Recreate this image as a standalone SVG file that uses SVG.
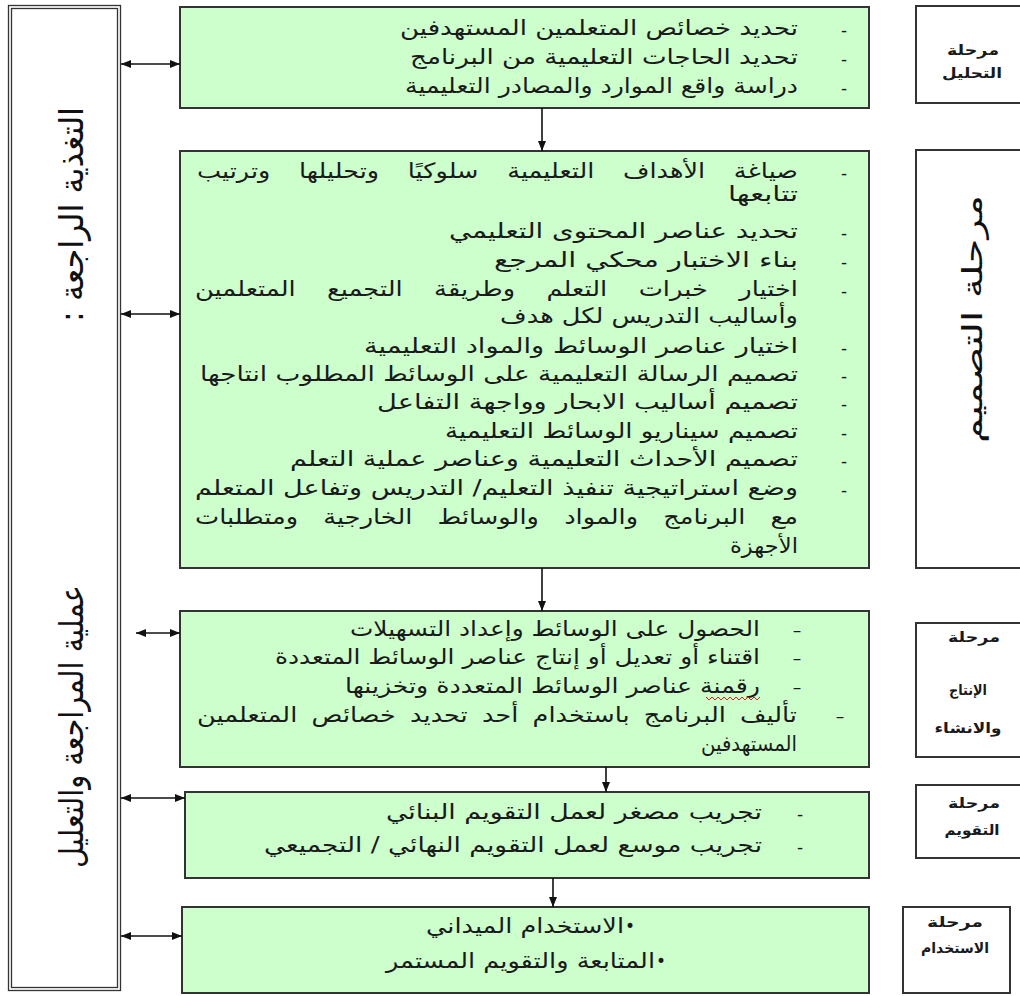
<svg xmlns="http://www.w3.org/2000/svg" width="1020" height="996" viewBox="0 0 1020 996">
<defs>
<style>
.box{fill:#ccffcc;stroke:#333;stroke-width:2}
.lbl{fill:#fff;stroke:#333;stroke-width:2}
.frame{fill:none;stroke:#333;stroke-width:1.3}
.t{font-family:"DejaVu Sans",sans-serif;font-size:21px;fill:#1a1a1a;direction:rtl;text-anchor:middle}
.d{font-family:"DejaVu Sans",sans-serif;font-size:17px;fill:#1a1a1a;text-anchor:middle}
.s{font-family:"DejaVu Sans",sans-serif;font-size:14px;font-weight:bold;fill:#1a1a1a;direction:rtl;text-anchor:middle}
.v{font-family:"DejaVu Sans",sans-serif;font-size:33px;fill:#111;direction:rtl;text-anchor:middle}
.c{fill:none;stroke:#111;stroke-width:1.6}
</style>
<marker id="ah" viewBox="0 0 10 8" refX="10" refY="4" markerWidth="10" markerHeight="8" markerUnits="userSpaceOnUse" orient="auto-start-reverse">
<path d="M0,0 L10,4 L0,8 Z" fill="#111"/>
</marker>
</defs>

<g id="feedback">
<rect class="frame" x="8.5" y="5.5" width="112" height="985"/>
<rect class="frame" x="11.5" y="8.5" width="106" height="979"/>
<text class="v" transform="translate(83,214.5) rotate(-90)" textLength="215" lengthAdjust="spacingAndGlyphs">التغذية الراجعة :</text>
<text class="v" transform="translate(83,726.5) rotate(-90)" textLength="283" lengthAdjust="spacingAndGlyphs">عملية المراجعة والتعليل</text>
</g>

<g id="analysis">
<rect class="box" x="180" y="7" width="689" height="101"/>
<text class="d" x="844" y="36">-</text>
<text class="d" x="844" y="65">-</text>
<text class="d" x="844" y="94">-</text>
<text class="t" x="599" y="35" textLength="398" lengthAdjust="spacingAndGlyphs">تحديد خصائص المتعلمين المستهدفين</text>
<text class="t" x="604" y="64" textLength="388" lengthAdjust="spacingAndGlyphs">تحديد الحاجات التعليمية من البرنامج</text>
<text class="t" x="601.5" y="93" textLength="393" lengthAdjust="spacingAndGlyphs">دراسة واقع الموارد والمصادر التعليمية</text>
</g>

<g id="design">
<rect class="box" x="180" y="151" width="689" height="417"/>
<text class="d" x="844" y="179">-</text>
<text class="d" x="844" y="239">-</text>
<text class="d" x="844" y="268">-</text>
<text class="d" x="844" y="297">-</text>
<text class="d" x="844" y="354">-</text>
<text class="d" x="844" y="382">-</text>
<text class="d" x="844" y="410">-</text>
<text class="d" x="844" y="439">-</text>
<text class="d" x="844" y="467">-</text>
<text class="d" x="844" y="496">-</text>
<text class="t" x="497.5" y="178" word-spacing="17" textLength="601" lengthAdjust="spacingAndGlyphs">صياغة الأهداف التعليمية سلوكيًا وتحليلها وترتيب</text>
<text class="t" x="763" y="201" textLength="70" lengthAdjust="spacingAndGlyphs">تتابعها</text>
<text class="t" x="623.5" y="238" textLength="349" lengthAdjust="spacingAndGlyphs">تحديد عناصر المحتوى التعليمي</text>
<text class="t" x="646" y="267" textLength="304" lengthAdjust="spacingAndGlyphs">بناء الاختبار محكي المرجع</text>
<text class="t" x="496.5" y="296" word-spacing="19" textLength="603" lengthAdjust="spacingAndGlyphs">اختيار خبرات التعلم وطريقة التجميع المتعلمين</text>
<text class="t" x="649" y="323" textLength="298" lengthAdjust="spacingAndGlyphs">وأساليب التدريس لكل هدف</text>
<text class="t" x="581" y="353" textLength="434" lengthAdjust="spacingAndGlyphs">اختيار عناصر الوسائط والمواد التعليمية</text>
<text class="t" x="499" y="381" textLength="598" lengthAdjust="spacingAndGlyphs">تصميم الرسالة التعليمية على الوسائط المطلوب انتاجها</text>
<text class="t" x="587.5" y="409" textLength="421" lengthAdjust="spacingAndGlyphs">تصميم أساليب الابحار وواجهة التفاعل</text>
<text class="t" x="621.5" y="438" textLength="353" lengthAdjust="spacingAndGlyphs">تصميم سيناريو الوسائط التعليمية</text>
<text class="t" x="544" y="466" textLength="508" lengthAdjust="spacingAndGlyphs">تصميم الأحداث التعليمية وعناصر عملية التعلم</text>
<text class="t" x="496.5" y="495" textLength="603" lengthAdjust="spacingAndGlyphs">وضع استراتيجية تنفيذ التعليم/ التدريس وتفاعل المتعلم</text>
<text class="t" x="496.5" y="524" word-spacing="14" textLength="603" lengthAdjust="spacingAndGlyphs">مع البرنامج والمواد والوسائط الخارجية ومتطلبات</text>
<text class="t" x="764" y="553" textLength="68" lengthAdjust="spacingAndGlyphs">الأجهزة</text>
</g>

<g id="production">
<rect class="box" x="180" y="611" width="689" height="156"/>
<text class="d" x="797" y="636">–</text>
<text class="d" x="797" y="664">–</text>
<text class="d" x="797" y="693">–</text>
<text class="d" x="840" y="722">–</text>
<text class="t" x="555" y="636" textLength="410" lengthAdjust="spacingAndGlyphs">الحصول على الوسائط وإعداد التسهيلات</text>
<text class="t" x="517.5" y="664" textLength="485" lengthAdjust="spacingAndGlyphs">اقتناء أو تعديل أو إنتاج عناصر الوسائط المتعددة</text>
<text class="t" x="552.5" y="693" textLength="415" lengthAdjust="spacingAndGlyphs">رقمنة عناصر الوسائط المتعددة وتخزينها</text>
<path d="M706,697 l3,3 l3,-3 l3,3 l3,-3 l3,3 l3,-3 l3,3 l3,-3 l3,3 l3,-3 l3,3 l3,-3 l3,3 l3,-3 l3,3 l3,-3 l3,3 l3,-3" fill="none" stroke="#e02020" stroke-width="1"/>
<text class="t" x="497" y="722" word-spacing="5" textLength="600" lengthAdjust="spacingAndGlyphs">تأليف البرنامج باستخدام أحد تحديد خصائص المتعلمين</text>
<text class="t" x="749" y="751" textLength="96" lengthAdjust="spacingAndGlyphs">المستهدفين</text>
</g>

<g id="evaluation">
<rect class="box" x="185" y="792" width="684" height="86"/>
<text class="d" x="800" y="820">-</text>
<text class="d" x="800" y="853">-</text>
<text class="t" x="574" y="819" textLength="376" lengthAdjust="spacingAndGlyphs">تجريب مصغر لعمل التقويم البنائي</text>
<text class="t" x="513" y="852" textLength="498" lengthAdjust="spacingAndGlyphs">تجريب موسع لعمل التقويم النهائي / التجميعي</text>
</g>

<g id="use">
<rect class="box" x="182" y="907" width="687" height="86"/>
<text class="d" x="630" y="932">•</text>
<text class="d" x="661" y="967">•</text>
<text class="t" x="525" y="933" textLength="198" lengthAdjust="spacingAndGlyphs">الاستخدام الميداني</text>
<text class="t" x="520.5" y="968" textLength="269" lengthAdjust="spacingAndGlyphs">المتابعة والتقويم المستمر</text>
</g>

<g id="label-analysis">
<rect class="lbl" x="916" y="6" width="110" height="97"/>
<text class="s" x="973" y="55" textLength="52" lengthAdjust="spacingAndGlyphs">مرحلة</text>
<text class="s" x="972" y="78" textLength="60" lengthAdjust="spacingAndGlyphs">التحليل</text>
</g>

<g id="label-design">
<rect class="lbl" x="916" y="150" width="110" height="418"/>
<text class="v" style="font-size:28px" transform="translate(982,319) rotate(-90)" textLength="248" lengthAdjust="spacingAndGlyphs">مرحلة التصميم</text>
</g>

<g id="label-production">
<rect class="lbl" x="916" y="623" width="110" height="134"/>
<text class="s" x="974" y="642" textLength="52" lengthAdjust="spacingAndGlyphs">مرحلة</text>
<text class="s" x="968" y="695" textLength="38" lengthAdjust="spacingAndGlyphs">الإنتاج</text>
<text class="s" x="968" y="733" textLength="67" lengthAdjust="spacingAndGlyphs">والانشاء</text>
</g>

<g id="label-evaluation">
<rect class="lbl" x="916" y="785" width="110" height="73"/>
<text class="s" x="974" y="808" textLength="52" lengthAdjust="spacingAndGlyphs">مرحلة</text>
<text class="s" x="972" y="835" textLength="55" lengthAdjust="spacingAndGlyphs">التقويم</text>
</g>

<g id="label-use">
<rect class="lbl" x="903" y="907" width="107" height="86"/>
<text class="s" x="955" y="927" textLength="56" lengthAdjust="spacingAndGlyphs">مرحلة</text>
<text class="s" x="955" y="953" textLength="68" lengthAdjust="spacingAndGlyphs">الاستخدام</text>
</g>

<g id="connectors">
<line class="c" x1="542" y1="108" x2="542" y2="151" marker-end="url(#ah)"/>
<line class="c" x1="542" y1="568" x2="542" y2="611" marker-end="url(#ah)"/>
<line class="c" x1="606" y1="767" x2="606" y2="792" marker-end="url(#ah)"/>
<line class="c" x1="553" y1="878" x2="553" y2="907" marker-end="url(#ah)"/>
<line class="c" x1="121" y1="64" x2="180" y2="64" marker-start="url(#ah)" marker-end="url(#ah)"/>
<line class="c" x1="121" y1="314" x2="180" y2="314" marker-start="url(#ah)" marker-end="url(#ah)"/>
<line class="c" x1="136" y1="633" x2="180" y2="633" marker-start="url(#ah)" marker-end="url(#ah)"/>
<line class="c" x1="121" y1="798" x2="185" y2="798" marker-start="url(#ah)" marker-end="url(#ah)"/>
<line class="c" x1="121" y1="936" x2="182" y2="936" marker-start="url(#ah)" marker-end="url(#ah)"/>
</g>
</svg>
